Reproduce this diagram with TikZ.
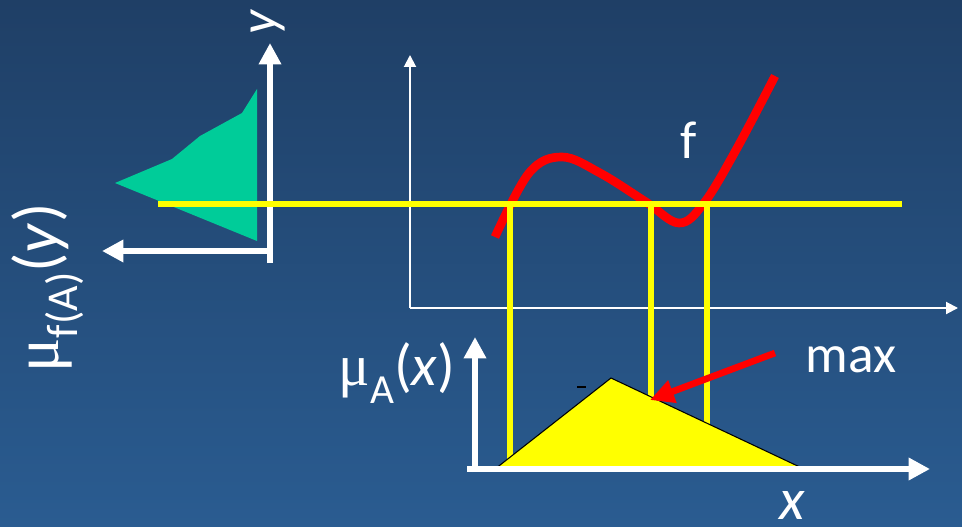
\documentclass[tikz,border=0pt]{standalone}
\usepackage{fontspec}
\setmainfont{Carlito}
\newfontfamily\mufont{Liberation Serif}
\usetikzlibrary{arrows.meta}
\definecolor{bgtop}{RGB}{31,63,102}
\definecolor{bgbot}{RGB}{42,92,145}
\definecolor{memgreen}{RGB}{0,204,153}
\definecolor{ylw}{RGB}{255,255,0}
\definecolor{fred}{RGB}{255,0,0}
\begin{document}
\begin{tikzpicture}[x=0.75pt,y=-0.75pt,
  bigaxis/.style={white, line width=4.5pt, -{Triangle[length=16pt,width=16pt]}},
  thinaxis/.style={white, line width=1.5pt, -{Triangle[length=9pt,width=9pt]}},
  ylwline/.style={ylw, line width=5pt},
  redcurve/.style={fred, line width=6.5pt},
  redarrow/.style={fred, line width=5pt, -{Triangle[length=18pt,width=17pt]}},
  lbl/.style={white, inner sep=0pt, font=\fontsize{40}{40}\selectfont},
]
\useasboundingbox (0,0) rectangle (962,527);
\shade[top color=bgtop, bottom color=bgbot] (0,0) rectangle (962,527);

% output membership (green)
\fill[memgreen] (115,183) -- (172,159) -- (200,136) -- (242,113) -- (257,89) -- (257,241) -- cycle;

% left small axes
\coordinate (lbot) at (270,263);
\coordinate (ltop) at (270,43);
\coordinate (lcorner) at (273,251);
\coordinate (lleft) at (102,251);
\draw[bigaxis] (lbot) -- (ltop);
\draw[bigaxis] (lcorner) -- (lleft);

% main axes
\coordinate (o) at (410,308);
\coordinate (otop) at (410,55);
\coordinate (oright) at (958,308);
\draw[thinaxis] (o) -- (otop);
\draw[thinaxis] (o) -- (oright);

% function f
\draw[redcurve] plot[smooth, tension=0.6] coordinates {(495,237) (529,173) (562,157) (600,173) (646,202) (679,223) (704,203) (736,150) (775,76)};

% yellow horizontal and vertical lines
\coordinate (hl) at (158,204);
\coordinate (hr) at (902,204);
\draw[ylwline] (hl) -- (hr);
\coordinate (v1t) at (510,204);
\coordinate (v1b) at (510,468);
\coordinate (v2t) at (651,204);
\coordinate (v2b) at (651,397);
\coordinate (v3t) at (707,204);
\coordinate (v3b) at (707,424);
\draw[ylwline] (v1t) -- (v1b);
\draw[ylwline] (v2t) -- (v2b);
\draw[ylwline] (v3t) -- (v3b);

% input membership (yellow triangle)
\coordinate (ta) at (495,469);
\coordinate (tb) at (611,378);
\coordinate (tc) at (804,469);
\filldraw[fill=ylw, draw=black, line width=0.8pt] (ta) -- (tb) -- (tc) -- cycle;
\coordinate (d1) at (577,387);
\coordinate (d2) at (586,387);
\draw[black, line width=0.8pt] (d1) -- (d2);

% bottom axes
\coordinate (bo) at (467,469);
\coordinate (bright) at (930,469);
\coordinate (bv) at (475,472);
\coordinate (btop) at (475,337);
\draw[bigaxis] (bo) -- (bright);
\draw[bigaxis] (bv) -- (btop);

% red arrow to max
\coordinate (ra) at (775,353);
\coordinate (rb) at (650,400);
\draw[redarrow] (ra) -- (rb);

% labels
\node[lbl, rotate=90, font=\fontsize{48}{48}\selectfont] (muf) at (48,288)
  {{\mufont μ}\raisebox{-0.3em}{\fontsize{33}{33}\selectfont f(A)}(\textit{y})};
\node[lbl, rotate=90] (ylab) at (268,22) {\textit{y}};
\node[lbl, font=\fontsize{44}{44}\selectfont] (mua) at (397,373)
  {{\mufont μ}\raisebox{-0.3em}{\fontsize{31}{31}\selectfont A}(\textit{x})};
\node[lbl] (flab) at (689,140) {f};
\node[lbl] (maxlab) at (851,360) {max};
\node[lbl, font=\fontsize{44}{44}\selectfont] (xlab) at (792,505) {\textit{x}};
\end{tikzpicture}
\end{document}
